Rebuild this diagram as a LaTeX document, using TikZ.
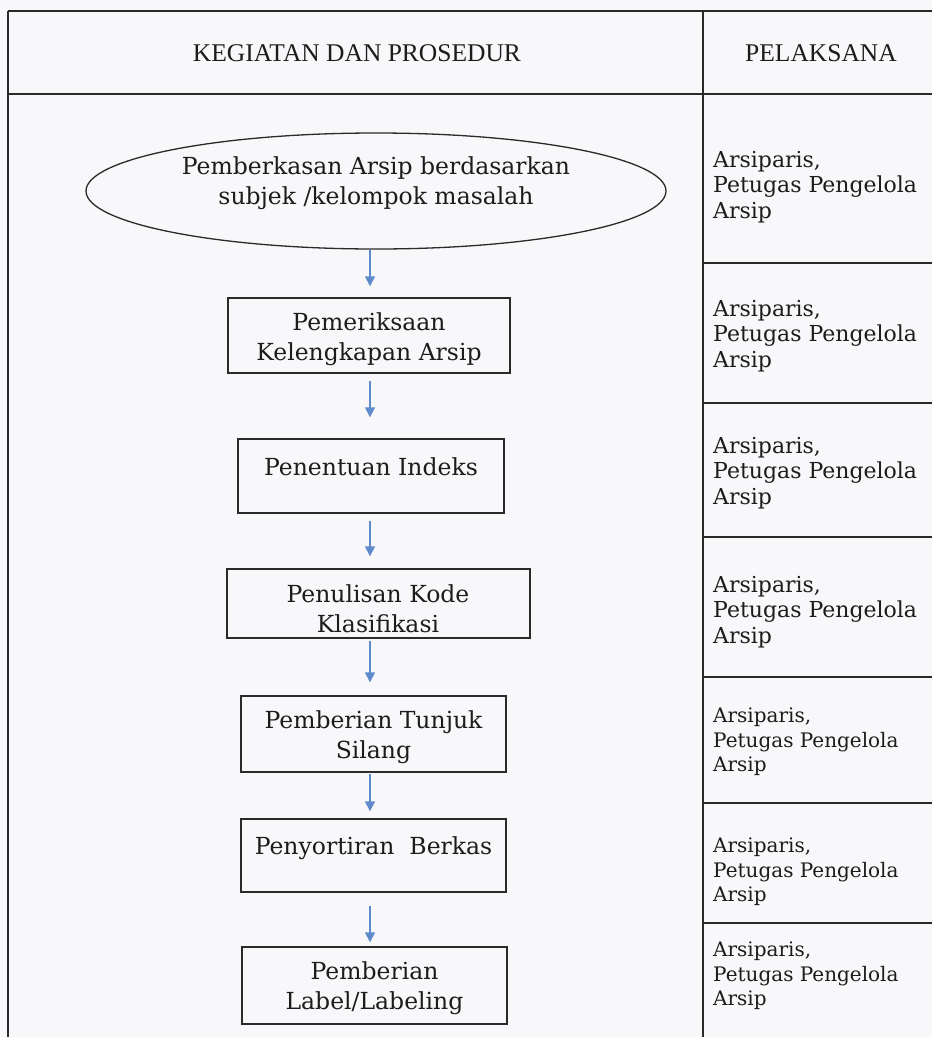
\documentclass[tikz,border=0pt]{standalone}
\usepackage{fontspec}
\setmainfont{DejaVu Serif}
\newfontfamily\hdrfont{Liberation Serif}
\usetikzlibrary{shapes.geometric,arrows.meta}
\definecolor{arrowblue}{HTML}{5F8ACB}
\definecolor{inkc}{HTML}{1C1C1C}
\definecolor{linec}{HTML}{2A2A2A}
\definecolor{paper}{HTML}{F8F8FA}
\tikzset{
  tbl/.style={draw=linec, line width=1.7pt},
  procbox/.style={draw=linec, line width=1.4pt, rectangle, inner sep=0pt},
  startell/.style={draw=linec, line width=1.3pt, ellipse, inner sep=0pt},
  flowarrow/.style={draw=arrowblue, line width=1.5pt, -{Triangle[width=10pt,length=10pt]}},
  boxtxt/.style={font=\fontsize{23.5}{30}\selectfont, align=center, text=inkc, inner sep=0pt},
  hdrtxt/.style={font=\hdrfont\fontsize{25.5}{30}\selectfont, text=inkc, inner sep=0pt},
  pel/.style={font=\fontsize{22}{25.5}\selectfont, align=left, anchor=west, inner sep=0pt, text=inkc},
  pelsm/.style={pel, font=\fontsize{20}{24.5}\selectfont}
}
\begin{document}
\begin{tikzpicture}[x=1pt,y=-1pt]
\fill[paper] (0,0) rectangle (932,1037);
\useasboundingbox (0,0) rectangle (932,1037);

% table frame
\draw[tbl] (8,11) -- (932,11);
\draw[tbl] (8,11) -- (8,1037);
\draw[tbl] (703,11) -- (703,1037);
\draw[tbl] (8,94) -- (932,94);
\foreach \yy in {263,403,537,677,803,923}{
  \draw[tbl] (703,\yy) -- (932,\yy);
}

% header
\node[hdrtxt] (h1) at (357,53) {KEGIATAN DAN PROSEDUR};
\node[hdrtxt] (h2) at (821,53) {PELAKSANA};

% flow shapes
\node[startell, minimum width=580pt, minimum height=116pt] (e1) at (376,191) {};
\node[boxtxt] (te1) at (376,183) {Pemberkasan Arsip berdasarkan\\subjek /kelompok masalah};

\node[procbox, minimum width=282pt, minimum height=75pt] (b1) at (369,335.5) {};
\node[boxtxt] (tb1) at (369,339) {Pemeriksaan\\Kelengkapan Arsip};

\node[procbox, minimum width=266pt, minimum height=74pt] (b2) at (371,476) {};
\node[boxtxt] (tb2) at (371,467) {Penentuan Indeks};

\node[procbox, minimum width=303pt, minimum height=69pt] (b3) at (378.5,603.5) {};
\node[boxtxt] (tb3) at (378,609) {Penulisan Kode\\Klasifikasi};

\node[procbox, minimum width=265pt, minimum height=76pt] (b4) at (373.5,734) {};
\node[boxtxt] (tb4) at (373.5,737) {Pemberian Tunjuk\\Silang};

\node[procbox, minimum width=265pt, minimum height=73pt] (b5) at (373.5,855.5) {};
\node[boxtxt] (tb5) at (373.5,848) {Penyortiran~ Berkas};

\node[procbox, minimum width=265pt, minimum height=77pt] (b6) at (374.5,985.5) {};
\node[boxtxt] (tb6) at (374.5,988) {Pemberian\\Label/Labeling};

% arrows
\coordinate (ax) at (370,0);
\draw[flowarrow, shorten >=11pt] (e1.south -| ax) -- (b1.north -| ax);
\draw[flowarrow, shorten <=7pt, shorten >=21pt] (b1.south -| ax) -- (b2.north -| ax);
\draw[flowarrow, shorten <=7pt, shorten >=12pt] (b2.south -| ax) -- (b3.north -| ax);
\draw[flowarrow, shorten <=2pt, shorten >=13pt] (b3.south -| ax) -- (b4.north -| ax);
\draw[flowarrow, shorten <=1pt, shorten >=7pt] (b4.south -| ax) -- (b5.north -| ax);
\draw[flowarrow, shorten <=13pt, shorten >=4pt] (b5.south -| ax) -- (b6.north -| ax);

% pelaksana column
\node[pel] (p1) at (713,187) {Arsiparis,\\Petugas Pengelola\\Arsip};
\node[pel] (p2) at (713,336) {Arsiparis,\\Petugas Pengelola\\Arsip};
\node[pel] (p3) at (713,473) {Arsiparis,\\Petugas Pengelola\\Arsip};
\node[pel] (p4) at (713,612) {Arsiparis,\\Petugas Pengelola\\Arsip};
\node[pelsm] (p5) at (713,742) {Arsiparis,\\Petugas Pengelola\\Arsip};
\node[pelsm] (p6) at (713,872) {Arsiparis,\\Petugas Pengelola\\Arsip};
\node[pelsm] (p7) at (713,976) {Arsiparis,\\Petugas Pengelola\\Arsip};
\end{tikzpicture}
\end{document}
